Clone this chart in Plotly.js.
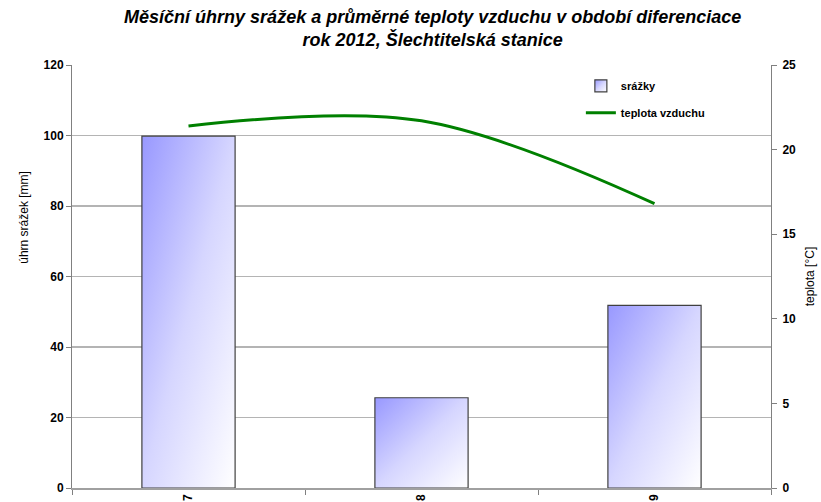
<!DOCTYPE html>
<html>
<head>
<meta charset="utf-8">
<script src="https://cdn.plot.ly/plotly-3.0.1.min.js"></script>
<style>html,body{margin:0;padding:0;background:#fff;}#chart{width:821px;height:502px;}</style>
</head>
<body>
<div id="chart"></div>
<script>
var months = ["7", "8", "9"];
var precipitation = [99.8, 25.6, 51.8];
var temperature = [21.4, 21.7, 16.8];
var leftTicks = [0, 20, 40, 60, 80, 100, 120];
var rightTicks = [0, 5, 10, 15, 20, 25];
var leftTitle = "úhrn srážek [mm]";
var rightTitle = "teplota [°C]";

var font = "Liberation Sans, Arial, sans-serif";

var traces = [
  {
    type: "bar",
    name: "srážky",
    x: months,
    y: precipitation,
    width: 0.4,
    legendgroup: "a",
    marker: {color: "#c4c4ff", line: {color: "#404040", width: 1.2}},
    hoverinfo: "x+y"
  },
  {
    type: "scatter",
    mode: "lines",
    name: "teplota vzduchu",
    x: months,
    y: temperature,
    yaxis: "y2",
    legendgroup: "b",
    line: {color: "#008000", width: 3, shape: "spline", smoothing: 1}
  }
];

var layout = {
  width: 821,
  height: 502,
  margin: {l: 72, r: 50, t: 65, b: 14, pad: 0},
  paper_bgcolor: "#ffffff",
  plot_bgcolor: "#ffffff",
  font: {family: font, color: "#000"},
  title: {
    text: "<b><i>Měsíční úhrny srážek a průměrné teploty vzduchu v období diferenciace<br>rok 2012, Šlechtitelská stanice</i></b>",
    font: {family: font, size: 18, color: "#000"},
    x: 0.527, xanchor: "center", xref: "container",
    y: 0.955, yanchor: "top", yref: "container"
  },
  showlegend: true,
  legend: {
    x: 0.728, y: 0.985, xanchor: "left", yanchor: "top",
    bgcolor: "rgba(255,255,255,0)",
    font: {family: font, size: 11, color: "#000", weight: "bold"},
    traceorder: "grouped",
    tracegroupgap: 8,
    itemwidth: 30
  },
  bargap: 0.6,
  xaxis: {
    type: "category",
    tickvals: months,
    ticktext: months,
    tickangle: -90,
    ticks: "outside",
    tickson: "boundaries",
    ticklen: 5,
    tickcolor: "#808080",
    ticklabelstandoff: 0,
    showline: true,
    linecolor: "#a0a0a0",
    linewidth: 1.5,
    showgrid: false,
    zeroline: false,
    automargin: false,
    tickfont: {family: font, size: 12, color: "#000", weight: "bold"}
  },
  yaxis: {
    range: [0, 120],
    tickvals: leftTicks,
    ticks: "outside",
    ticklen: 5,
    tickcolor: "#808080",
    showline: true,
    linecolor: "#808080",
    linewidth: 1,
    showgrid: true,
    gridcolor: "#b4b4b4",
    gridwidth: 1.2,
    zeroline: false,
    automargin: false,
    tickfont: {family: font, size: 12, color: "#000", weight: "bold"}
  },
  yaxis2: {
    range: [0, 25],
    tickvals: rightTicks,
    overlaying: "y",
    side: "right",
    ticks: "outside",
    ticklen: 5,
    tickcolor: "#808080",
    ticklabelstandoff: 3,
    showline: true,
    linecolor: "#808080",
    linewidth: 1,
    showgrid: false,
    zeroline: false,
    automargin: false,
    tickfont: {family: font, size: 12, color: "#000", weight: "bold"},
    title: {text: rightTitle, font: {family: font, size: 12, color: "#000"}, standoff: 10}
  },
  annotations: [
    {
      text: leftTitle,
      xref: "paper", yref: "paper",
      x: -0.068, y: 0.64,
      xanchor: "center", yanchor: "middle",
      textangle: -90,
      showarrow: false,
      font: {family: font, size: 12, color: "#000"}
    }
  ]
};

Plotly.newPlot("chart", traces, layout, {displayModeBar: false, staticPlot: true}).then(function (gd) {
  var svg = gd.querySelector("svg.main-svg");
  var ns = "http://www.w3.org/2000/svg";
  var defs = svg.querySelector("defs") || svg.insertBefore(document.createElementNS(ns, "defs"), svg.firstChild);
  var grad = document.createElementNS(ns, "linearGradient");
  grad.setAttribute("id", "barGrad");
  grad.setAttribute("x1", "0"); grad.setAttribute("y1", "0");
  grad.setAttribute("x2", "1"); grad.setAttribute("y2", "1");
  [["0", "#9898ff"], ["0.5", "#d6d6ff"], ["1", "#ffffff"]].forEach(function (s) {
    var st = document.createElementNS(ns, "stop");
    st.setAttribute("offset", s[0]);
    st.setAttribute("stop-color", s[1]);
    grad.appendChild(st);
  });
  defs.appendChild(grad);
  gd.querySelectorAll(".trace.bars .point path").forEach(function (p) {
    p.style.fill = "url(#barGrad)";
  });
  gd.querySelectorAll(".legend .legendpoints .legendbar, .legend .legendpoints path.legendundefined").forEach(function (p) {
    p.style.fill = "url(#barGrad)";
  });
});
</script>
</body>
</html>
